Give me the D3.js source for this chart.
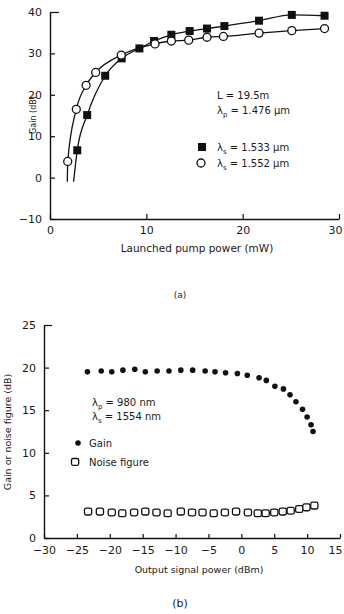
<!DOCTYPE html>
<html>
<head>
<meta charset="utf-8">
<script src="https://cdn.jsdelivr.net/npm/d3@7"></script>
<style>
  body { margin: 0; background: #fff; }
  svg text { font-family: "DejaVu Sans", sans-serif; fill: #1a1a1a; }
</style>
</head>
<body>
<div id="chart"></div>
<script>
// ---- (a) gain vs launched pump power ----
const pumpTicks = [0, 10, 20, 30];
const gainTicksA = [-10, 0, 10, 20, 30, 40];

// lambda_s = 1.533 um (filled squares)
const pump1533 = [2.83, 3.86, 5.73, 7.44, 9.28, 10.8, 12.6, 14.5, 16.3, 18.1, 21.7, 25.1, 28.5];
const gain1533 = [6.6, 15.1, 24.6, 28.8, 31.2, 33.0, 34.5, 35.4, 36.0, 36.6, 37.9, 39.3, 39.1];
// lambda_s = 1.552 um (open circles)
const pump1552 = [1.84, 2.73, 3.75, 4.74, 7.4, 10.9, 12.6, 14.4, 16.3, 18.0, 21.7, 25.1, 28.5];
const gain1552 = [3.9, 16.5, 22.3, 25.4, 29.6, 32.3, 33.0, 33.2, 33.9, 34.1, 34.9, 35.5, 36.0];
// where the fitted curves leave the bottom
const curveStart1533 = [2.45, -1];
const curveStart1552 = [1.8, -1];

// ---- (b) gain / noise figure vs output signal power ----
const outTicks = [-30, -25, -20, -15, -10, -5, 0, 5, 10, 15];
const gainTicksB = [0, 5, 10, 15, 20, 25];

const outGain = [-23.4, -21.3, -19.7, -18.0, -16.2, -14.6, -12.8, -11.0, -9.2, -7.4, -5.5, -4.0, -2.4,
  -0.6, 0.9, 2.7, 3.8, 5.1, 6.4, 7.4, 8.3, 9.3, 10.0, 10.6, 10.9];
const gainB = [19.5, 19.6, 19.5, 19.7, 19.8, 19.5, 19.6, 19.6, 19.7, 19.7, 19.6, 19.5, 19.4,
  19.3, 19.1, 18.8, 18.5, 17.8, 17.5, 16.8, 16.0, 15.1, 14.2, 13.3, 12.5];

const outNoise = [-23.3, -21.5, -19.7, -18.1, -16.3, -14.6, -12.9, -11.2, -9.2, -7.5, -5.9, -4.2,
  -2.5, -0.8, 1.0, 2.5, 3.7, 5.0, 6.3, 7.5, 8.8, 9.9, 11.1];
const noiseB = [3.1, 3.1, 3.0, 2.9, 3.0, 3.1, 3.0, 2.9, 3.1, 3.0, 3.0, 2.9,
  3.0, 3.1, 3.0, 2.9, 2.9, 3.0, 3.1, 3.2, 3.4, 3.6, 3.8];

const ink = "#111";

const svg = d3.select("#chart").append("svg")
  .attr("width", 344)
  .attr("height", 614);

function styleAxis(g, size) {
  g.select(".domain").attr("stroke", ink).attr("stroke-width", 1.4);
  g.selectAll(".tick line").attr("stroke", ink).attr("stroke-width", 1.2);
  g.selectAll(".tick text").style("font-size", size + "px").attr("fill", "#1a1a1a");
}

// text like "λp = 1.476 μm" with a subscript
function lambdaLabel(x, y, sub, rest) {
  const t = svg.append("text").attr("x", x).attr("y", y).style("font-size", "10px");
  t.append("tspan").text("λ");
  t.append("tspan").attr("dy", 3).style("font-size", "7px").text(sub);
  t.append("tspan").attr("dy", -3).text(rest);
  return t;
}

const minusFmt = d => d < 0 ? "−" + (-d) : d;

// ================= (a) =================
const xA = d3.scaleLinear().domain([0, 30]).range([50, 339]);
const yA = d3.scaleLinear().domain([-10, 40]).range([219, 12]);

svg.append("g")
  .attr("transform", "translate(0,219)")
  .call(d3.axisBottom(xA).tickValues(pumpTicks).tickSize(-5).tickSizeOuter(0).tickPadding(7))
  .call(g => styleAxis(g, 11))
  .call(g => g.selectAll(".tick").filter(d => d === 30).select("text").attr("dx", -4));

svg.append("g")
  .attr("transform", "translate(50,0)")
  .call(d3.axisLeft(yA).tickValues(gainTicksA).tickFormat(minusFmt)
    .tickSize(-5).tickSizeOuter(0).tickPadding(8))
  .call(g => styleAxis(g, 11))
  .call(g => g.selectAll(".tick").filter(d => d === 40).select("line").attr("x2", 9));

svg.append("text")
  .attr("transform", "translate(36,115) rotate(-90)")
  .attr("text-anchor", "middle")
  .style("font-size", "8px")
  .text("Gain (dB)");

svg.append("text")
  .attr("x", 197).attr("y", 252)
  .attr("text-anchor", "middle")
  .style("font-size", "10.5px")
  .text("Launched pump power (mW)");

svg.append("text")
  .attr("x", 180).attr("y", 298)
  .attr("text-anchor", "middle")
  .style("font-size", "9px")
  .attr("fill", "#777")
  .text("(a)");

const lineA = d3.line()
  .x(d => xA(d[0]))
  .y(d => yA(d[1]))
  .curve(d3.curveMonotoneX);

const pts1533 = pump1533.map((p, i) => [p, gain1533[i]]);
const pts1552 = pump1552.map((p, i) => [p, gain1552[i]]);

svg.append("path")
  .attr("d", lineA([curveStart1533, ...pts1533]))
  .attr("fill", "none").attr("stroke", ink).attr("stroke-width", 1.3);
svg.append("path")
  .attr("d", lineA([curveStart1552, ...pts1552]))
  .attr("fill", "none").attr("stroke", ink).attr("stroke-width", 1.3);

svg.append("g").selectAll("rect")
  .data(pts1533)
  .join("rect")
  .attr("x", d => xA(d[0]) - 4)
  .attr("y", d => yA(d[1]) - 4)
  .attr("width", 8).attr("height", 8)
  .attr("fill", ink);

svg.append("g").selectAll("circle")
  .data(pts1552)
  .join("circle")
  .attr("cx", d => xA(d[0]))
  .attr("cy", d => yA(d[1]))
  .attr("r", 4)
  .attr("fill", "#fff").attr("stroke", ink).attr("stroke-width", 1.3);

// legend (a)
svg.append("text").attr("x", 217).attr("y", 99).style("font-size", "10px").text("L = 19.5m");
lambdaLabel(217, 114, "p", " = 1.476 μm");
svg.append("rect").attr("x", 198).attr("y", 143).attr("width", 8).attr("height", 8).attr("fill", ink);
lambdaLabel(217, 151, "s", " = 1.533 μm");
svg.append("circle").attr("cx", 201).attr("cy", 163).attr("r", 4)
  .attr("fill", "#fff").attr("stroke", ink).attr("stroke-width", 1.3);
lambdaLabel(217, 167, "s", " = 1.552 μm");

// ================= (b) =================
const xB = d3.scaleLinear().domain([-30, 15]).range([44, 340]);
const yB = d3.scaleLinear().domain([0, 25]).range([538, 325]);

svg.append("g")
  .attr("transform", "translate(0,538)")
  .call(d3.axisBottom(xB).tickValues(outTicks).tickFormat(minusFmt)
    .tickSize(-4).tickSizeOuter(0).tickPadding(8))
  .call(g => styleAxis(g, 11))
  .call(g => g.selectAll(".tick").filter(d => d === 15).select("text").attr("dx", -5));

svg.append("g")
  .attr("transform", "translate(44,0)")
  .call(d3.axisLeft(yB).tickValues(gainTicksB).tickSize(-5).tickSizeOuter(0).tickPadding(8))
  .call(g => styleAxis(g, 11))
  .call(g => g.selectAll(".tick").filter(d => d === 25).select("line").attr("x2", 8));

svg.append("text")
  .attr("transform", "translate(11,432) rotate(-90)")
  .attr("text-anchor", "middle")
  .style("font-size", "9.5px")
  .text("Gain or noise figure (dB)");

svg.append("text")
  .attr("x", 199).attr("y", 573)
  .attr("text-anchor", "middle")
  .style("font-size", "9.5px")
  .text("Output signal power (dBm)");

svg.append("text")
  .attr("x", 180).attr("y", 607)
  .attr("text-anchor", "middle")
  .style("font-size", "11px")
  .attr("fill", "#555")
  .text("(b)");

svg.append("g").selectAll("circle")
  .data(outGain.map((p, i) => [p, gainB[i]]))
  .join("circle")
  .attr("cx", d => xB(d[0]))
  .attr("cy", d => yB(d[1]))
  .attr("r", 2.8)
  .attr("fill", ink);

svg.append("g").selectAll("rect")
  .data(outNoise.map((p, i) => [p, noiseB[i]]))
  .join("rect")
  .attr("x", d => xB(d[0]) - 3.6)
  .attr("y", d => yB(d[1]) - 3.4)
  .attr("width", 7.2).attr("height", 6.8)
  .attr("rx", 1.8)
  .attr("fill", "#fff").attr("stroke", ink).attr("stroke-width", 1.3);

// legend (b)
lambdaLabel(92, 406, "p", " = 980 nm");
lambdaLabel(92, 420, "s", " = 1554 nm");
svg.append("circle").attr("cx", 78).attr("cy", 443).attr("r", 2.8).attr("fill", ink);
svg.append("text").attr("x", 89).attr("y", 447).style("font-size", "10px").text("Gain");
svg.append("rect").attr("x", 71.5).attr("y", 458.5).attr("width", 7.2).attr("height", 6.8).attr("rx", 1.5)
  .attr("fill", "#fff").attr("stroke", ink).attr("stroke-width", 1.3);
svg.append("text").attr("x", 89).attr("y", 466).style("font-size", "10px").text("Noise figure");
</script>
</body>
</html>
